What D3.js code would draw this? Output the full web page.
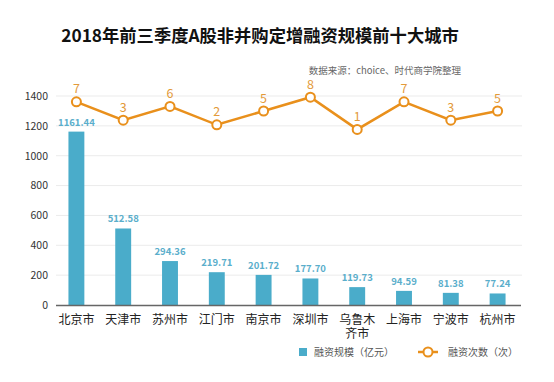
<!DOCTYPE html>
<html><head><meta charset="utf-8">
<script src="https://cdn.jsdelivr.net/npm/d3@7"></script>
<style>body{margin:0;background:#fff;}svg{display:block;font-family:"Noto Sans CJK SC","Noto Sans",sans-serif;}</style>
</head><body>
<svg id="c" width="554" height="382"></svg>
<script>
const cities = ["北京市","天津市","苏州市","江门市","南京市","深圳市","乌鲁木齐市","上海市","宁波市","杭州市"];
const amounts = [1161.44,512.58,294.36,219.71,201.72,177.70,119.73,94.59,81.38,77.24];
const counts = [7,3,6,2,5,8,1,7,3,5];
const yTicks = [0,200,400,600,800,1000,1200,1400];
const titleText = "2018年前三季度A股非并购定增融资规模前十大城市";
const sourceText = "数据来源：choice、时代商学院整理";
const legendBar = "融资规模（亿元）";
const legendLine = "融资次数（次）";

const barColor = "#4aacca", lineColor = "#e9901c";
const svg = d3.select("#c");
const x = d3.scaleBand().domain(cities).range([53,521]).paddingInner(0.66).paddingOuter(0.33);
const y = d3.scaleLinear().domain([0,1400]).range([305,96]);
const y2 = d3.scaleLinear().domain([0,8]).range([134,97.2]);

svg.append("text").attr("x",260).attr("y",42).attr("text-anchor","middle")
  .attr("font-size",17.3).attr("font-weight","bold").attr("fill","#111").text(titleText);
svg.append("text").attr("x",461).attr("y",74).attr("text-anchor","end")
  .attr("font-size",9.5).attr("fill","#666").text(sourceText);

// grid
svg.append("g").selectAll("line").data(yTicks.filter(d=>d>0)).join("line")
  .attr("x1",56).attr("x2",522).attr("y1",d=>y(d)).attr("y2",d=>y(d))
  .attr("stroke","#ebebeb").attr("stroke-width",1);
const ya = svg.append("g").attr("transform","translate(56,0)")
  .call(d3.axisLeft(y).tickValues(yTicks).tickFormat(d3.format("d")).tickSize(0).tickPadding(8));
ya.select(".domain").remove();
ya.selectAll("text").attr("font-size",10.5).attr("fill","#333").attr("font-family","'Noto Sans CJK SC',sans-serif");

// bars
svg.append("g").selectAll("rect").data(amounts).join("rect")
  .attr("x",(d,i)=>x(cities[i])).attr("width",x.bandwidth())
  .attr("y",d=>y(d)).attr("height",d=>y(0)-y(d)).attr("fill",barColor);
svg.append("g").selectAll("text").data(amounts).join("text")
  .attr("x",(d,i)=>x(cities[i])+x.bandwidth()/2).attr("y",d=>y(d)-6)
  .attr("text-anchor","middle").attr("font-size",9.5).attr("font-weight","bold").attr("fill","#5aaecb")
  .text(d=>d.toFixed(2));

// x axis
svg.append("line").attr("x1",56).attr("x2",521).attr("y1",305.5).attr("y2",305.5).attr("stroke","#666").attr("stroke-width",1.5);
const lbl = svg.append("g");
cities.forEach(d=>{
  const cxp = x(d)+x.bandwidth()/2;
  const parts = d.length>3 ? [d.slice(0,3), d.slice(3)] : [d];
  parts.forEach((p,k)=>{
    lbl.append("text").attr("x",cxp).attr("y",324+k*13.5).attr("text-anchor","middle")
      .attr("font-size",12).attr("fill","#222").text(p);
  });
});

// line
const cx = (d,i)=>x(cities[i])+x.bandwidth()/2;
svg.append("path").datum(counts)
  .attr("d",d3.line().x(cx).y(d=>y2(d)))
  .attr("fill","none").attr("stroke",lineColor).attr("stroke-width",2.5);
svg.append("g").selectAll("circle").data(counts).join("circle")
  .attr("cx",cx).attr("cy",d=>y2(d)).attr("r",4.5)
  .attr("fill","#fff").attr("stroke",lineColor).attr("stroke-width",2);
svg.append("g").selectAll("text").data(counts).join("text")
  .attr("x",cx).attr("y",d=>y2(d)-8.5).attr("text-anchor","middle")
  .attr("font-size",12.5).attr("fill","#e39a3a").text(d=>d);

// legend
svg.append("rect").attr("x",299).attr("y",348).attr("width",8).attr("height",8).attr("fill",barColor);
svg.append("text").attr("x",314).attr("y",356).attr("font-size",10).attr("fill","#555").text(legendBar);
svg.append("line").attr("x1",418).attr("x2",438).attr("y1",352).attr("y2",352).attr("stroke",lineColor).attr("stroke-width",2.5);
svg.append("circle").attr("cx",428).attr("cy",352).attr("r",4.5).attr("fill","#fff").attr("stroke",lineColor).attr("stroke-width",2);
svg.append("text").attr("x",448).attr("y",356).attr("font-size",10).attr("fill","#555").text(legendLine);
</script>
</body></html>
